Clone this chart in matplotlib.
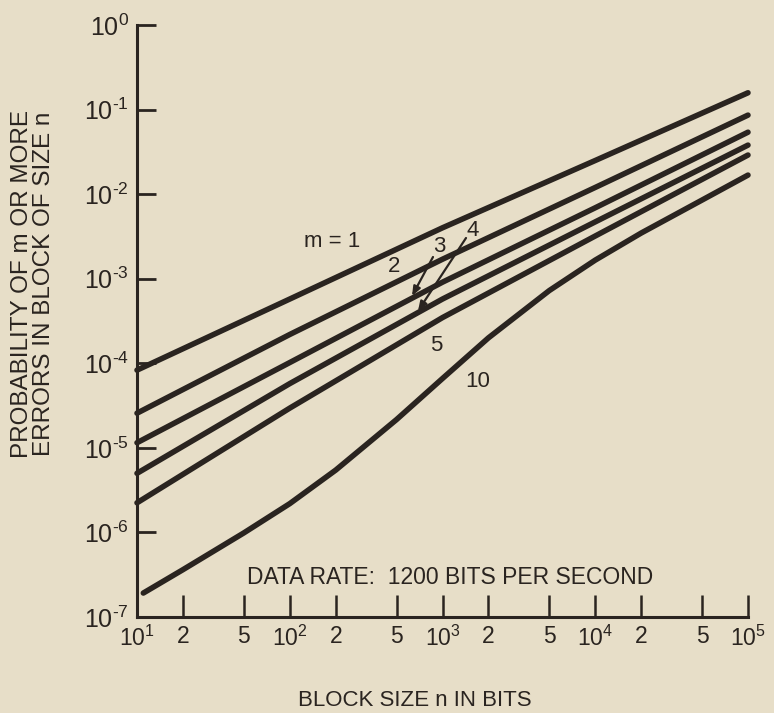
import matplotlib
matplotlib.use("Agg")
import matplotlib.pyplot as plt
from matplotlib.ticker import FixedLocator, FixedFormatter, NullLocator

plt.rcParams['font.family'] = ['Liberation Sans', 'DejaVu Sans']
plt.rcParams['mathtext.fontset'] = 'custom'
plt.rcParams['mathtext.rm'] = 'Liberation Sans'
plt.rcParams['mathtext.it'] = 'Liberation Sans:italic'
plt.rcParams['mathtext.bf'] = 'Liberation Sans:bold'
plt.rcParams['mathtext.default'] = 'regular'

# ---- data ----
block_sizes = [10, 100, 1000, 10000, 100000]
p_m1 = [8.3e-5, 5.75e-4, 4.0e-3, 2.5e-2, 0.158]
p_m2 = [2.57e-5, 2.19e-4, 1.70e-3, 1.2e-2, 8.6e-2]
p_m3 = [1.15e-5, 1.02e-4, 9.1e-4, 6.9e-3, 5.4e-2]
p_m4 = [5.0e-6, 5.75e-5, 5.75e-4, 4.7e-3, 3.8e-2]
p_m5 = [2.24e-6, 2.95e-5, 3.47e-4, 3.2e-3, 2.9e-2]
block_sizes_m10 = [11, 20, 50, 100, 200, 500, 1000, 2000, 5000, 10000, 20000, 50000, 100000]
p_m10 = [1.92e-7, 3.63e-7, 9.86e-7, 2.19e-6, 5.46e-6, 2.16e-5, 6.61e-5,
         2.0e-4, 7.24e-4, 1.66e-3, 3.47e-3, 8.51e-3, 1.68e-2]

x_tick_values = [10, 20, 50, 100, 200, 500, 1000, 2000, 5000, 10000, 20000, 50000, 100000]
x_tick_labels = [r'$10^{1}$', '2', '5', r'$10^{2}$', '2', '5', r'$10^{3}$', '2', '5',
                 r'$10^{4}$', '2', '5', r'$10^{5}$']
y_tick_values = [1e-7, 1e-6, 1e-5, 1e-4, 1e-3, 1e-2, 1e-1, 1e0]
y_tick_labels = [r'$10^{\text{-}7}$', r'$10^{\text{-}6}$', r'$10^{\text{-}5}$', r'$10^{\text{-}4}$',
                 r'$10^{\text{-}3}$', r'$10^{\text{-}2}$', r'$10^{\text{-}1}$', r'$10^{0}$']

bg = '#e7dec8'
ink = '#2a2420'

fig = plt.figure(figsize=(7.74, 7.13), dpi=100, facecolor=bg)
ax = fig.add_axes([137/774, 1-617/713, (748-137)/774, (617-25)/713])
ax.set_facecolor(bg)
ax.set_xscale('log')
ax.set_yscale('log')
ax.set_xlim(10, 1e5)
ax.set_ylim(1e-7, 1e0)

lw = 4.0
for ys in [p_m1, p_m2, p_m3, p_m4, p_m5]:
    ax.plot(block_sizes, ys, color=ink, lw=lw, solid_capstyle='round',
            solid_joinstyle='round', clip_on=False)
ax.plot(block_sizes_m10, p_m10, color=ink, lw=lw, solid_capstyle='round',
        solid_joinstyle='round', clip_on=False)

for s in ['top', 'right']:
    ax.spines[s].set_visible(False)
for s in ['left', 'bottom']:
    ax.spines[s].set_linewidth(2.2)
    ax.spines[s].set_color(ink)

ax.xaxis.set_major_locator(FixedLocator(x_tick_values))
ax.xaxis.set_major_formatter(FixedFormatter(x_tick_labels))
ax.xaxis.set_minor_locator(NullLocator())
ax.yaxis.set_major_locator(FixedLocator(y_tick_values))
ax.yaxis.set_major_formatter(FixedFormatter(y_tick_labels))
ax.yaxis.set_minor_locator(NullLocator())

ax.tick_params(axis='x', direction='in', length=16, width=1.8, colors=ink, labelsize=16.5, pad=6)
ax.tick_params(axis='y', direction='in', length=14, width=2.0, colors=ink, labelsize=18, pad=6)

fig.text(415/774, 1-700/713, 'BLOCK SIZE n IN BITS', ha='center', va='center',
         fontsize=16, color=ink)
fig.text(33/774, 1-284/713, 'PROBABILITY OF m OR MORE\nERRORS IN BLOCK OF SIZE n',
         rotation=90, ha='center', va='center', multialignment='center',
         fontsize=17.5, color=ink, linespacing=1.05)

ax.text(0.512, 0.066, 'DATA RATE:  1200 BITS PER SECOND', transform=ax.transAxes,
        ha='center', va='center', fontsize=16.5, color=ink)

def px2data(px, py):
    lx = 1 + (px - 137) / 152.75
    ly = -(py - 25) / 84.57
    return 10**lx, 10**ly

lab_kw = dict(ha='center', va='center', fontsize=16, color=ink)
ax.text(*px2data(332, 241), 'm = 1', **lab_kw)
ax.text(*px2data(394, 266), '2', **lab_kw)
ax.text(*px2data(439, 246), '3', **lab_kw)
ax.text(*px2data(473, 230), '4', **lab_kw)
ax.text(*px2data(436, 345), '5', **lab_kw)
ax.text(*px2data(478, 381), '10', **lab_kw)

arrow_kw = dict(arrowstyle='-|>,head_length=0.55,head_width=0.22', color=ink, lw=1.6,
                shrinkA=0, shrinkB=0)
ax.annotate('', xy=px2data(412, 296), xytext=px2data(433, 257), arrowprops=arrow_kw)
ax.annotate('', xy=px2data(418, 311), xytext=px2data(466, 238), arrowprops=arrow_kw)

fig.savefig('out.png', dpi=100, facecolor=bg)
